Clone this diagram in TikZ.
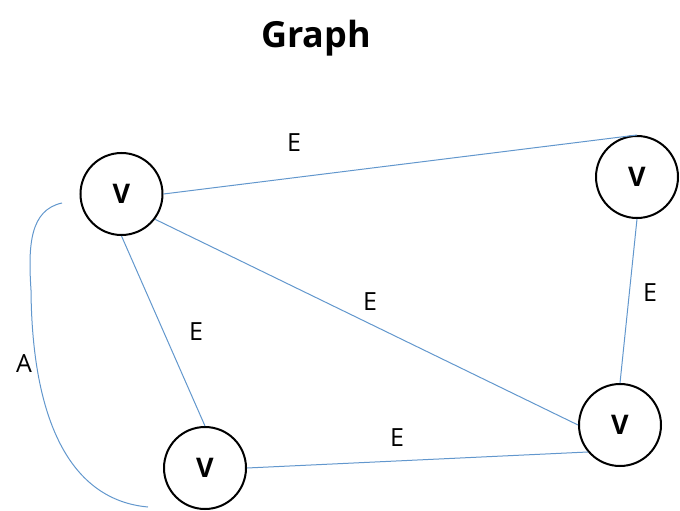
\documentclass[tikz,border=0pt]{standalone}
\usepackage{fontspec}
\setmainfont{Open Sans}
\begin{document}
\begin{tikzpicture}[x=1pt,y=-1pt,
  vertex/.style={circle,draw=black,line width=2pt,minimum size=82pt,inner sep=0pt,
    font=\fontsize{27}{30}\selectfont\bfseries},
  edge/.style={draw=edgeblue,line width=1pt},
  elabel/.style={font=\fontsize{25}{28}\selectfont},
]
\definecolor{edgeblue}{RGB}{98,151,205}
\useasboundingbox (0,0) rectangle (680,511);

% title
\node[font=\fontsize{36}{42}\selectfont\bfseries] (title) at (316,38) {Graph};

% vertices
\node[vertex] (v1) at (121.5,194) {V};
\node[vertex] (v2) at (637,177) {V};
\node[vertex] (v3) at (620,425) {V};
\node[vertex] (v4) at (205,468) {V};

% edges
\draw[edge] (v1.east) -- (v2.north);
\draw[edge] (v1.-37) -- (v3.west);
\draw[edge] (v1.south) -- (v4.north);
\draw[edge] (v2.south) -- (v3.north);
\draw[edge] (v4.east) -- (v3.-140);

% edge labels
\node[elabel] (e12) at (294,143) {E};
\node[elabel] (e23) at (650,293) {E};
\node[elabel] (e13) at (370,302) {E};
\node[elabel] (e14) at (196,332) {E};
\node[elabel] (e43) at (397,438) {E};

% arc on the left
\coordinate (arcA) at (62,203);
\coordinate (arcM) at (31,290);
\coordinate (arcB) at (148,507);
\draw[edge] (arcA) .. controls (30,210) and (28,245) .. (arcM)
  .. controls (32,420) and (70,500) .. (arcB);
\node[elabel] (lblA) at (24,364) {A};
\end{tikzpicture}
\end{document}
